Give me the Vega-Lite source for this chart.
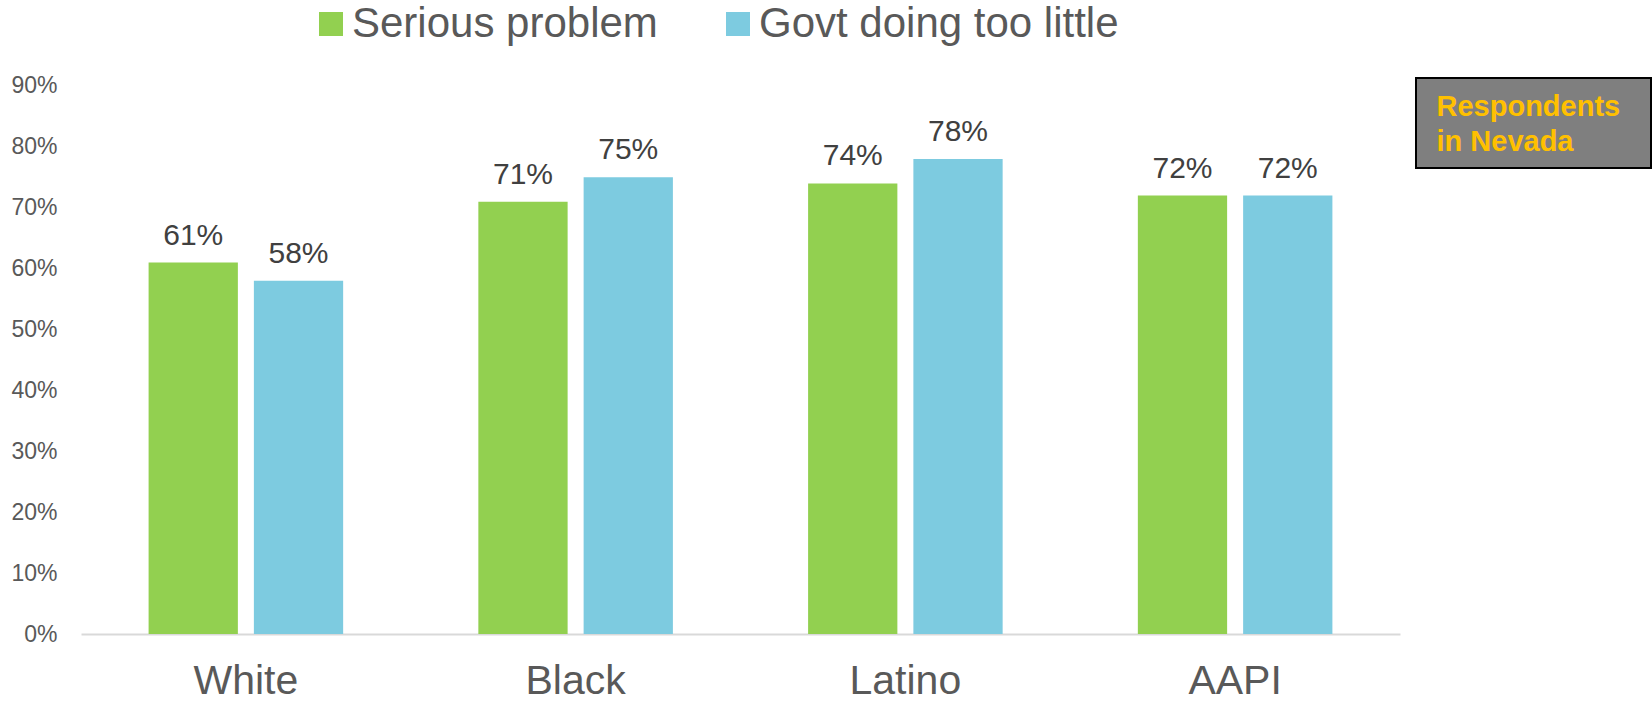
{
  "$schema": "https://vega.github.io/schema/vega-lite/v6.json",
  "background": "white",
  "padding": {"left": 10, "top": 3, "right": 0, "bottom": 0},
  "autosize": {"type": "pad"},
  "config": {"view": {"stroke": null}, "font": "Liberation Sans"},
  "bounds": "flush",
  "spacing": 16,
  "hconcat": [
    {
      "width": 1319,
      "height": 556,
      "data": {"values": [
        {"group": "White", "series": "Serious problem", "value": 0.61},
        {"group": "White", "series": "Govt doing too little", "value": 0.58},
        {"group": "Black", "series": "Serious problem", "value": 0.71},
        {"group": "Black", "series": "Govt doing too little", "value": 0.75},
        {"group": "Latino", "series": "Serious problem", "value": 0.74},
        {"group": "Latino", "series": "Govt doing too little", "value": 0.78},
        {"group": "AAPI", "series": "Serious problem", "value": 0.72},
        {"group": "AAPI", "series": "Govt doing too little", "value": 0.72}
      ]},
      "encoding": {
        "x": {
          "field": "group", "type": "nominal",
          "sort": ["White", "Black", "Latino", "AAPI"],
          "scale": {"paddingInner": 0.41, "paddingOuter": 0.205},
          "axis": {
            "title": null, "labelAngle": 0, "labelFontSize": 41, "labelColor": "#595959",
            "labelPadding": 59, "labelBaseline": "alphabetic", "ticks": false, "tickSize": 0,
            "domainColor": "#d9d9d9", "domainWidth": 2, "grid": false
          }
        },
        "xOffset": {
          "field": "series", "type": "nominal",
          "sort": ["Serious problem", "Govt doing too little"],
          "scale": {"paddingInner": 0.152, "paddingOuter": 0}
        },
        "y": {
          "field": "value", "type": "quantitative",
          "scale": {"domain": [0, 0.9131], "nice": false},
          "axis": {
            "title": null, "values": [0, 0.1, 0.2, 0.3, 0.4, 0.5, 0.6, 0.7, 0.8, 0.9],
            "format": ".0%", "labelFontSize": 23, "labelColor": "#595959",
            "domain": false, "ticks": false, "tickSize": 0, "grid": false, "labelPadding": 24
          }
        }
      },
      "layer": [
        {
          "mark": {"type": "bar"},
          "encoding": {
            "color": {
              "field": "series", "type": "nominal",
              "scale": {"domain": ["Serious problem", "Govt doing too little"], "range": ["#92D050", "#7DCBE0"]},
              "legend": {
                "title": null, "orient": "none", "legendX": 229, "legendY": -75,
                "direction": "horizontal", "symbolType": "square", "symbolSize": 576,
                "symbolStrokeWidth": 0, "labelFontSize": 42, "labelColor": "#595959",
                "labelOffset": 0, "columnPadding": 59, "labelLimit": 800, "padding": 0
              }
            }
          }
        },
        {
          "mark": {"type": "text", "dy": -18, "baseline": "alphabetic", "fontSize": 30, "color": "#404040"},
          "encoding": {"text": {"field": "value", "type": "quantitative", "format": ".0%"}}
        }
      ]
    },
    {
      "width": 235,
      "height": 90,
      "view": {"fill": "#7f7f7f", "stroke": "#000000", "strokeWidth": 2},
      "data": {"values": [{"note": ["Respondents", "in Nevada"]}]},
      "mark": {"type": "text", "align": "left", "baseline": "middle", "dx": -97, "dy": -16, "fontSize": 29, "fontWeight": "bold", "color": "#FFC000", "lineHeight": 35},
      "encoding": {"text": {"field": "note", "type": "nominal"}}
    }
  ]
}
